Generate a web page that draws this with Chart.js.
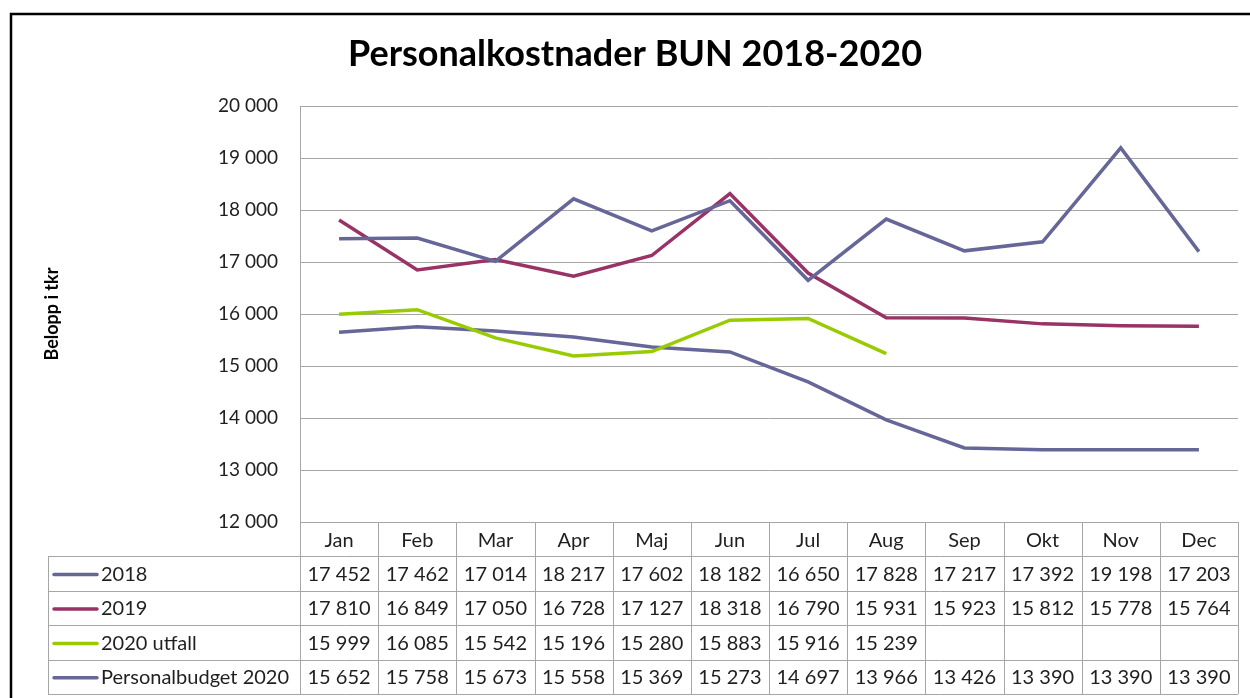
<!DOCTYPE html>
<html>
<head>
<meta charset="utf-8">
<script src="https://cdn.jsdelivr.net/npm/chart.js@4"></script>
<style>
  html, body { margin: 0; padding: 0; background: #fff; }
  #wrap { width: 1250px; height: 698px; }
</style>
</head>
<body>
<div id="wrap"><canvas id="personalChart" width="1250" height="698"></canvas></div>
<script>
// Data (tkr)
const months = ['Jan', 'Feb', 'Mar', 'Apr', 'Maj', 'Jun', 'Jul', 'Aug', 'Sep', 'Okt', 'Nov', 'Dec'];
const seriesNames = ['2018', '2019', '2020 utfall', 'Personalbudget 2020'];
const values2018 = [17452, 17462, 17014, 18217, 17602, 18182, 16650, 17828, 17217, 17392, 19198, 17203];
const values2019 = [17810, 16849, 17050, 16728, 17127, 18318, 16790, 15931, 15923, 15812, 15778, 15764];
const values2020 = [15999, 16085, 15542, 15196, 15280, 15883, 15916, 15239, null, null, null, null];
const budget2020 = [15652, 15758, 15673, 15558, 15369, 15273, 14697, 13966, 13426, 13390, 13390, 13390];
const yTicks = [12000, 13000, 14000, 15000, 16000, 17000, 18000, 19000, 20000];

const colors = ['#666699', '#993366', '#99cc00', '#666699'];
const FONT = 'Lato, "Open Sans", sans-serif';
const TEXT = '#1f1f1f';
const GRID = '#a6a6a6';

// tusental med mellanslag
function fmt(v) {
    return String(v).replace(/\B(?=(\d{3})+(?!\d))/g, ' ');
}

// ram runt diagrammet
const frame = {
    id: 'frame',
    beforeDraw(chart) {
        const ctx = chart.ctx;
        ctx.save();
        ctx.fillStyle = '#fff';
        ctx.fillRect(0, 0, chart.width, chart.height);
        ctx.strokeStyle = '#000';
        ctx.lineWidth = 2.5;
        ctx.strokeRect(11, 14, chart.width + 10, chart.height + 10);
        ctx.restore();
    }
};

// datatabell under diagrammet
const dataTable = {
    id: 'dataTable',
    afterDraw(chart) {
        const ctx = chart.ctx;
        const x = chart.scales.x;
        const area = chart.chartArea;
        const top = area.bottom;
        const rowH = 34.4;
        const step = (area.right - area.left) / months.length;
        const legendLeft = 48;
        const rows = chart.data.datasets;

        ctx.save();
        ctx.strokeStyle = GRID;
        ctx.lineWidth = 1;
        ctx.beginPath();
        // horisontella linjer
        for (let r = 0; r <= rows.length + 1; r++) {
            const y = Math.round(top + r * rowH) + 0.5;
            ctx.moveTo(r === 0 ? area.left : legendLeft, y);
            ctx.lineTo(area.right, y);
        }
        // vertikala linjer
        for (let c = 0; c <= months.length; c++) {
            const xx = Math.round(area.left + c * step) + 0.5;
            ctx.moveTo(xx, top);
            ctx.lineTo(xx, top + (rows.length + 1) * rowH);
        }
        const lx = legendLeft + 0.5;
        ctx.moveTo(lx, Math.round(top + rowH));
        ctx.lineTo(lx, top + (rows.length + 1) * rowH);
        ctx.stroke();

        ctx.font = '20px ' + FONT;
        ctx.fillStyle = TEXT;
        ctx.textBaseline = 'middle';
        ctx.textAlign = 'center';
        months.forEach((m, i) => {
            ctx.fillText(m, x.getPixelForValue(i), top + rowH / 2 + 1);
        });

        rows.forEach((ds, r) => {
            const cy = top + (r + 1) * rowH + rowH / 2 + 1;
            // legendlinje
            ctx.strokeStyle = ds.borderColor;
            ctx.lineWidth = 3.5;
            ctx.lineCap = 'round';
            ctx.beginPath();
            ctx.moveTo(54, cy);
            ctx.lineTo(97, cy);
            ctx.stroke();
            ctx.textAlign = 'left';
            ctx.fillText(ds.label, 101, cy);
            ctx.textAlign = 'center';
            ds.data.forEach((v, i) => {
                if (v !== null) ctx.fillText(fmt(v), x.getPixelForValue(i), cy);
            });
        });
        ctx.restore();
    }
};

const allSeries = [values2018, values2019, values2020, budget2020];

const config = {
    type: 'line',
    data: {
        labels: months,
        datasets: allSeries.map((d, i) => ({
            label: seriesNames[i],
            data: d,
            borderColor: colors[i],
            backgroundColor: colors[i],
            borderWidth: 3.5,
            pointRadius: 0,
            tension: 0,
            spanGaps: false
        }))
    },
    options: {
        responsive: false,
        animation: false,
        layout: {
            padding: { left: 32, right: 12, top: 0, bottom: 176 }
        },
        plugins: {
            legend: { display: false },
            tooltip: { enabled: false },
            title: {
                display: true,
                text: 'Personalkostnader BUN 2018-2020',
                color: '#000',
                font: { family: FONT, size: 36, weight: 'bold' },
                padding: { top: 33, bottom: 30 }
            }
        },
        scales: {
            x: {
                offset: true,
                grid: { display: false, drawTicks: false },
                border: { display: true, color: GRID, width: 1 },
                ticks: { display: false },
                afterFit(scale) { scale.height = 0; }
            },
            y: {
                min: 12000,
                max: 20000,
                afterBuildTicks(scale) {
                    scale.ticks = yTicks.map(v => ({ value: v }));
                },
                afterFit(scale) { scale.width = 268; },
                grid: { color: GRID, lineWidth: 1, drawTicks: false },
                border: { display: true, color: GRID, width: 1 },
                ticks: {
                    padding: 22,
                    color: TEXT,
                    font: { family: FONT, size: 19 },
                    callback: v => fmt(v)
                },
                title: {
                    display: true,
                    text: 'Belopp i tkr',
                    color: '#000',
                    font: { family: FONT, size: 18, weight: 'bold' },
                    padding: { top: 9, bottom: 0 }
                }
            }
        }
    },
    plugins: [frame, dataTable]
};

let chart;
document.addEventListener('DOMContentLoaded', () => {
    const canvas = document.getElementById('personalChart');
    if (canvas) {
        chart = new Chart(canvas, config);
    }
});
</script>
</body>
</html>
